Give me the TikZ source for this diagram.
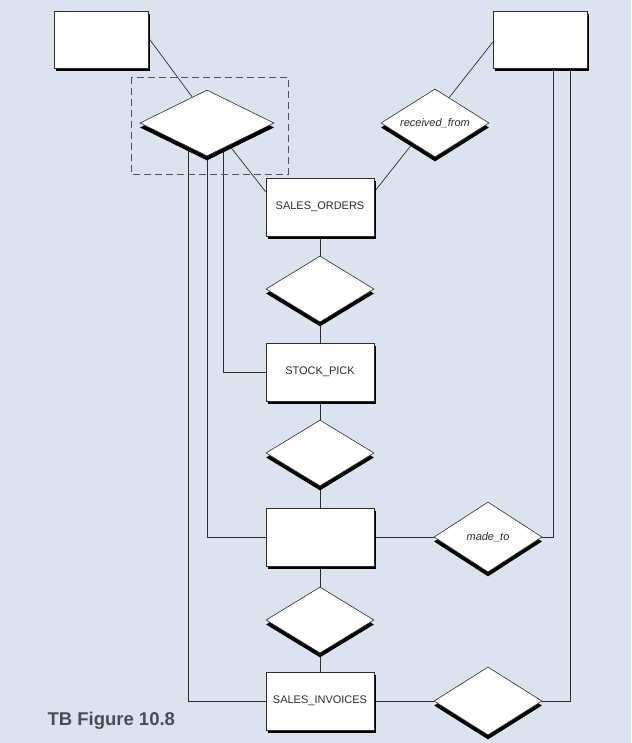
\documentclass[tikz,border=0pt]{standalone}
\usepackage{fontspec}
\setmainfont{Liberation Sans}
\usetikzlibrary{shapes.geometric,shadows,calc}
\definecolor{bgc}{RGB}{220,227,240}
\definecolor{ln}{RGB}{45,45,45}
\definecolor{ttl}{RGB}{72,76,86}
\definecolor{dsh}{RGB}{80,80,85}
\pgfdeclarelayer{bgl}
\pgfdeclarelayer{lns}
\pgfsetlayers{bgl,lns,main}
\begin{document}
\begin{tikzpicture}[x=1pt,y=-1pt,
  ent/.style={draw=ln, line width=0.8pt, fill=white, rectangle,
    minimum width=108pt, minimum height=58pt, inner sep=0pt,
    font=\fontsize{11}{13}\selectfont, text=ln,
    drop shadow={shadow xshift=2pt, shadow yshift=-3pt, fill=black, opacity=1}},
  rel/.style={draw=ln, line width=0.6pt, fill=white, diamond, aspect=1.6,
    minimum width=108pt, minimum height=66pt, inner sep=0pt,
    font=\fontsize{11}{13}\selectfont\itshape, text=ln,
    drop shadow={shadow xshift=0pt, shadow yshift=-4.5pt, fill=black, opacity=1}},
  con/.style={draw=ln, line width=0.7pt}]
\begin{pgfonlayer}{bgl}
\fill[bgc] (0,0) rectangle (631,743);
\end{pgfonlayer}
\useasboundingbox (0,0) rectangle (631,743);

\node[ent, minimum width=94pt, minimum height=57pt] (TL) at (101,40) {};
\node[ent, minimum width=94pt, minimum height=57pt] (TR) at (540,40) {};
\node[rel, minimum width=134pt, minimum height=66pt] (D1) at (207,123) {};
\node[rel, minimum height=68pt] (RF) at (435,123) {received\_from};
\node[ent] (SO) at (320,207) {SALES\_ORDERS};
\node[rel] (D2) at (320,289) {};
\node[ent] (SP) at (320,372) {STOCK\_PICK};
\node[rel] (D3) at (320,453) {};
\node[ent] (M) at (320,537) {};
\node[rel, minimum height=70pt] (MT) at (488,537) {made\_to};
\node[rel] (D4) at (320,620) {};
\node[ent] (SI) at (320,701) {SALES\_INVOICES};
\node[rel, minimum height=68pt] (D5) at (488,701) {};
\node[font=\bfseries\fontsize{18.5}{22}\selectfont, text=ttl, anchor=west] (cap) at (44,721) {TB Figure 10.8};

\draw[dsh, dash pattern=on 7pt off 4pt, line width=0.8pt] (131,77) rectangle (288,174);

\begin{pgfonlayer}{lns}
\draw[con] ($(TL.north east)!0.46!(TL.south east)$) -- ($(D1.north)!0.22!(D1.west)$);
\draw[con] ($(D1.south)!0.33!(D1.east)$) -- ($(SO.north west)!0.24!(SO.south west)$);
\draw[con] ($(TR.north west)!0.54!(TR.south west)$) -- ($(RF.north)!0.26!(RF.east)$);
\draw[con] ($(RF.south)!0.41!(RF.west)$) -- ($(SO.north east)!0.24!(SO.south east)$);
\draw[con] (SO) -- (D2);
\draw[con] (D2) -- (SP);
\draw[con] (SP) -- (D3);
\draw[con] (D3) -- (M);
\draw[con] (M) -- (D4);
\draw[con] (D4) -- (SI);
\draw[con] ($(D1.south)!0.27!(D1.west)$) |- (SI.west);
\draw[con] (D1.south) |- (M.west);
\draw[con] ($(D1.south)!0.24!(D1.east)$) |- (SP.west);
\draw[con] ($(TR.south)!0.28!(TR.south east)$) |- (MT.east);
\draw[con] ($(TR.south)!0.64!(TR.south east)$) |- (D5.east);
\draw[con] (M) -- (MT);
\draw[con] (SI) -- (D5);
\end{pgfonlayer}
\end{tikzpicture}
\end{document}
